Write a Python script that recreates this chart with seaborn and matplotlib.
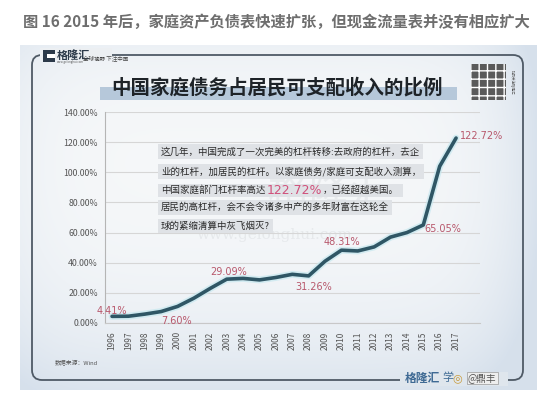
import numpy as np
import pandas as pd
import matplotlib
matplotlib.use("Agg")
import matplotlib.pyplot as plt
from matplotlib.patches import FancyBboxPatch, Rectangle
import seaborn as sns

# ---- data ----
years = list(range(1996, 2018))
ratio = [4.41, 4.5, 5.9, 7.60, 11.0, 16.5, 23.0, 29.09, 29.6, 28.6, 30.2, 32.3,
         31.26, 41.0, 48.31, 47.8, 50.5, 57.0, 60.0, 65.05, 104.0, 122.72]
yticks = [0, 20, 40, 60, 80, 100, 120, 140]
ytick_labels = ["0.00%", "20.00%", "40.00%", "60.00%", "80.00%", "100.00%", "120.00%", "140.00%"]
ann_text = ["4.41%", "7.60%", "29.09%", "31.26%", "48.31%", "65.05%", "122.72%"]
ann_x = [1996.0, 1999.96, 2003.13, 2008.3, 2010.0, 2016.2, 2017.22]
ann_y = [8.0, 1.0, 34.0, 24.1, 54.0, 62.2, 124.1]
caption = "图 16 2015 年后，家庭资产负债表快速扩张，但现金流量表并没有相应扩大"
title = "中国家庭债务占居民可支配收入的比例"
box_lines = ["这几年，中国完成了一次完美的杠杆转移:去政府的杠杆，去企",
             "业的杠杆，加居民的杠杆。以家庭债务/家庭可支配收入测算，",
             None,
             "居民的高杠杆，会不会令诸多中产的多年财富在这轮全",
             "球的紧缩清算中灰飞烟灭?"]
line3_parts = ["中国家庭部门杠杆率高达", "122.72%", "，已经超越美国。"]

df = pd.DataFrame({"year": years, "ratio": ratio})

sns.set_theme(style="white")
plt.rcParams['font.family'] = ['Noto Sans CJK SC', 'DejaVu Sans']

W, H = 550, 397
fig = plt.figure(figsize=(W / 100, H / 100), dpi=100)
fig.patch.set_facecolor("white")

# background decoration axes in pixel coords
bg = fig.add_axes([0, 0, 1, 1])
bg.set_xlim(0, W)
bg.set_ylim(H, 0)
bg.axis("off")

# gradient picture background
gy = np.linspace(0, 1, 200)[:, None]
gx = np.linspace(0, 1, 300)[None, :]
edge = (np.abs(gx - 0.45) * 2) ** 6 * 0.5 + gy ** 4 * 0.8 + (1 - gy) ** 8 * 0.3
edge = np.clip(edge, 0, 1)
c_in = np.array([0.965, 0.972, 0.978])
c_out = np.array([0.84, 0.88, 0.925])
img = c_in[None, None, :] * (1 - edge[..., None]) + c_out[None, None, :] * edge[..., None]
bg.imshow(img, extent=(20, 537, 390, 45), aspect="auto", zorder=0)

# rounded frame
frame = FancyBboxPatch((32, 55), 491, 325, boxstyle="round,pad=0,rounding_size=10",
                       fill=False, edgecolor="#4f5a66", linewidth=1.3, zorder=1)
bg.add_patch(frame)
# gaps in frame for logo and watermark
bg.add_patch(Rectangle((40, 48), 72, 12, facecolor="#eceff2", edgecolor="none", zorder=2))
bg.add_patch(Rectangle((400, 372), 108, 14, facecolor="#dfe6ed", edgecolor="none", zorder=2))

# caption
bg.text(276, 22, caption, ha="center", va="center", fontsize=11, fontweight="bold",
        color="#6e6e6e", zorder=3)

# logo
bg.add_patch(Rectangle((43, 50), 12, 12, facecolor="#2c3a4a", edgecolor="none", zorder=3))
bg.add_patch(Rectangle((47, 54), 8, 4, facecolor="white", edgecolor="none", zorder=4))
bg.text(57, 55, "格隆汇", ha="left", va="center", fontsize=8, fontweight="bold",
        color="#2c3a4a", zorder=3)
bg.text(57, 62, "www.gelonghui.com", ha="left", va="center", fontsize=2, color="#555", zorder=3)
bg.text(83, 58, "全球视野 下注中国", ha="left", va="center", fontsize=4, color="#444", zorder=3)

# title with highlight bar
bg.add_patch(Rectangle((100, 87), 357, 13, facecolor="#b6c8da", edgecolor="none", zorder=2))
bg.text(277, 88, title, ha="center", va="center", fontsize=14, fontweight="bold",
        color="#1e2328", zorder=3)

# QR code placeholder
bg.add_patch(Rectangle((471, 64), 35, 36, facecolor="#5a5a5a", edgecolor="white",
                       hatch="++", linewidth=0, zorder=3))
bg.text(512, 82, "扫码关注格隆汇", rotation=-90, ha="center", va="center", fontsize=2.5,
        color="#555", zorder=3)

# source
bg.text(55, 362, "数据来源：Wind", ha="left", va="center", fontsize=4.2, color="#555", zorder=3)

# bottom right watermark
bg.text(405, 378, "格隆汇", ha="left", va="center", fontsize=8.5, fontweight="bold",
        color="#3f6a94", style="italic", zorder=3)
bg.text(442, 378, "学", ha="left", va="center", fontsize=8, color="#3f6a94", zorder=3)
bg.text(452, 378, "◎", ha="left", va="center", fontsize=8, color="#c89a3a",
        family=["DejaVu Sans"], zorder=3)
bg.text(468, 378, "@鼎丰", ha="left", va="center", fontsize=7, color="#555",
        bbox=dict(boxstyle="square,pad=0.15", facecolor="#eeeeee", edgecolor="#999", lw=0.5),
        zorder=3)

# chart axes
ax = fig.add_axes([105 / W, (H - 323) / H, 375 / W, 211 / H])
ax.patch.set_alpha(0)
ax.set_xlim(1995.57, 2018.46)
ax.set_ylim(0, 140)

# faint watermark text in plot
ax.text(2009.3, 86, "格隆汇", ha="center", va="center", fontsize=30, color="#dde0e3",
        alpha=0.5, zorder=0)
ax.text(2005.9, 58.4, "www.gelonghui.com", ha="center", va="center", fontsize=11,
        color="#dcdfe2", alpha=0.55, family=["DejaVu Serif"], zorder=0)

sns.lineplot(data=df, x="year", y="ratio", ax=ax, color="#c6e8ef", linewidth=5.0,
             alpha=0.7, zorder=2, legend=False)
sns.lineplot(data=df, x="year", y="ratio", ax=ax, color="#2f5665", linewidth=2.6,
             zorder=3, legend=False)

ax.set_yticks(yticks)
ax.set_yticklabels(ytick_labels)
ax.set_xticks(years)
ax.set_xticklabels([str(y) for y in years], rotation=90)
ax.tick_params(axis="y", labelsize=6.3, labelcolor="#555", length=0, pad=5)
ax.tick_params(axis="x", labelsize=6, labelcolor="#555", length=0, pad=6)
ax.grid(axis="y", color="#d6d6d6", linewidth=0.8)
ax.grid(axis="x", visible=False)
ax.set_xlabel("")
ax.set_ylabel("")
for s in ["top", "right"]:
    ax.spines[s].set_visible(False)
ax.spines["left"].set_color("#b5b5b5")
ax.spines["left"].set_linewidth(0.8)
ax.spines["bottom"].set_color("#c8c8c8")
ax.spines["bottom"].set_linewidth(0.8)

for t, x, y in zip(ann_text, ann_x, ann_y):
    ax.text(x, y, t, ha="left" if t == "122.72%" else "center", va="center",
            fontsize=7, color="#b8586c", family=["DejaVu Sans"], zorder=4)

# overlay axes for the text box (drawn above grid)
ov = fig.add_axes([0, 0, 1, 1])
ov.set_xlim(0, W)
ov.set_ylim(H, 0)
ov.axis("off")
ov.patch.set_alpha(0)

line_y = [151.7, 171.5, 190, 207.5, 226]
box_fc = "#dfe2e6"
fs_box = 6.8
for ly, txt in zip(line_y, box_lines):
    if txt is None:
        continue
    ov.text(161, ly, txt, ha="left", va="center", fontsize=fs_box, color="#2a2a2a",
            bbox=dict(boxstyle="square,pad=0.28", facecolor=box_fc, edgecolor="none"),
            zorder=5)

# third line: chain parts horizontally
renderer = fig.canvas.get_renderer()
x0 = 161
styles = [dict(fontsize=fs_box, color="#2a2a2a"),
          dict(fontsize=9, color="#d0507a", family=["DejaVu Sans"]),
          dict(fontsize=fs_box, color="#2a2a2a")]
to_data = ov.transData.inverted()
for part, st in zip(line3_parts, styles):
    t = ov.text(x0, line_y[2], part, ha="left", va="center", zorder=6, **st)
    bb = t.get_window_extent(renderer=renderer)
    xb = to_data.transform((bb.x1, bb.y1))[0]
    x0 = xb + 1.0
x_end = x0
ov.add_patch(Rectangle((158, line_y[2] - 6.5), x_end - 158 + 3, 13, facecolor=box_fc,
                       edgecolor="none", zorder=4))

fig.savefig("out.png", dpi=100)
